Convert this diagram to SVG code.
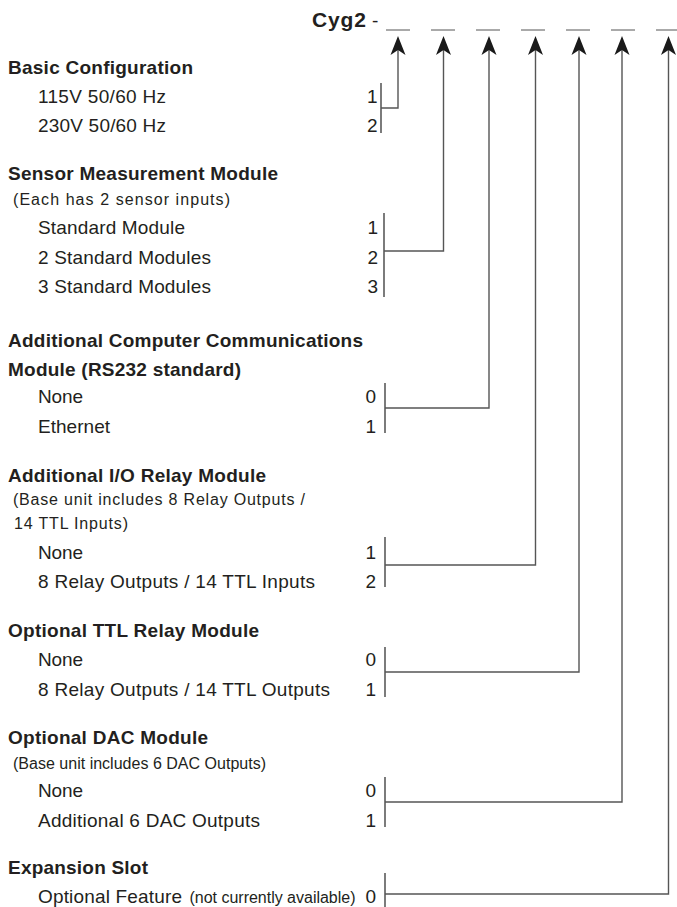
<svg xmlns="http://www.w3.org/2000/svg" xmlns:xlink="http://www.w3.org/1999/xlink" width="677" height="907" viewBox="0 0 677 907">
<style>
  text { font-family: "Liberation Sans", Arial, Helvetica, sans-serif; fill: #231f20; }
  .h { font-size: 19px; font-weight: bold; }
  .t { font-size: 21px; font-weight: bold; }
  .i { font-size: 19px; }
  .n { font-size: 16px; }
  .num { font-size: 19px; text-anchor: end; }
  .bar { stroke: #444; stroke-width: 1.4; fill: none; }
  .conn { stroke: #555; stroke-width: 1.4; fill: none; }
  .us { stroke: #555; stroke-width: 1; }
  .ah { fill: #1a1a1a; }
</style>
<defs>
  <path id="arrowhead" class="ah" d="M0,36 L7.5,55 L0,50 L-7.5,55 Z"/>
</defs>
<rect width="677" height="907" fill="#ffffff"/>

<g id="header">
  <text class="t" x="312" y="27" textLength="54" lengthAdjust="spacing">Cyg2</text>
  <text class="i" x="372" y="27">-</text>
  <line class="us" x1="386" y1="30" x2="410" y2="30"/>
  <line class="us" x1="431" y1="30" x2="455" y2="30"/>
  <line class="us" x1="476" y1="30" x2="500" y2="30"/>
  <line class="us" x1="521" y1="30" x2="545" y2="30"/>
  <line class="us" x1="566" y1="30" x2="590" y2="30"/>
  <line class="us" x1="611" y1="30" x2="635" y2="30"/>
  <line class="us" x1="656" y1="30" x2="677" y2="30"/>
</g>

<g id="basic-configuration">
  <text class="h" x="8" y="74" textLength="185" lengthAdjust="spacing">Basic Configuration</text>
  <text class="i" x="38" y="103" textLength="128" lengthAdjust="spacing">115V 50/60 Hz</text>
  <text class="i" x="38" y="132" textLength="128" lengthAdjust="spacing">230V 50/60 Hz</text>
  <text class="num" x="377.5" y="103">1</text>
  <text class="num" x="377.5" y="132">2</text>
  <line class="bar" x1="381" y1="83" x2="381" y2="133"/>
</g>

<g id="sensor-measurement-module">
  <text class="h" x="8" y="180" textLength="270" lengthAdjust="spacing">Sensor Measurement Module</text>
  <text class="n" x="13" y="205" textLength="217" lengthAdjust="spacing">(Each has 2 sensor inputs)</text>
  <text class="i" x="38" y="234" textLength="147" lengthAdjust="spacing">Standard Module</text>
  <text class="i" x="38" y="264" textLength="173" lengthAdjust="spacing">2 Standard Modules</text>
  <text class="i" x="38" y="293" textLength="173" lengthAdjust="spacing">3 Standard Modules</text>
  <text class="num" x="378" y="234">1</text>
  <text class="num" x="378" y="264">2</text>
  <text class="num" x="378" y="293">3</text>
  <line class="bar" x1="384" y1="213" x2="384" y2="297"/>
</g>

<g id="communications-module">
  <text class="h" x="8" y="347" textLength="355" lengthAdjust="spacing">Additional Computer Communications</text>
  <text class="h" x="8" y="376" textLength="233" lengthAdjust="spacing">Module (RS232 standard)</text>
  <text class="i" x="38" y="403" textLength="45" lengthAdjust="spacing">None</text>
  <text class="i" x="38" y="433" textLength="72" lengthAdjust="spacing">Ethernet</text>
  <text class="num" x="376" y="403">0</text>
  <text class="num" x="376" y="433">1</text>
  <line class="bar" x1="385" y1="383" x2="385" y2="433"/>
</g>

<g id="io-relay-module">
  <text class="h" x="8" y="482" textLength="258" lengthAdjust="spacing">Additional I/O Relay Module</text>
  <text class="n" x="13" y="505" textLength="292" lengthAdjust="spacing">(Base unit includes 8 Relay Outputs /</text>
  <text class="n" x="14" y="529" textLength="114" lengthAdjust="spacing">14 TTL Inputs)</text>
  <text class="i" x="38" y="559" textLength="45" lengthAdjust="spacing">None</text>
  <text class="i" x="38" y="588" textLength="277" lengthAdjust="spacing">8 Relay Outputs / 14 TTL Inputs</text>
  <text class="num" x="376" y="559">1</text>
  <text class="num" x="376" y="588">2</text>
  <line class="bar" x1="385" y1="537" x2="385" y2="587"/>
</g>

<g id="ttl-relay-module">
  <text class="h" x="8" y="637" textLength="251" lengthAdjust="spacing">Optional TTL Relay Module</text>
  <text class="i" x="38" y="666" textLength="45" lengthAdjust="spacing">None</text>
  <text class="i" x="38" y="696" textLength="292" lengthAdjust="spacing">8 Relay Outputs / 14 TTL Outputs</text>
  <text class="num" x="376" y="666">0</text>
  <text class="num" x="376" y="696">1</text>
  <line class="bar" x1="385" y1="647" x2="385" y2="697"/>
</g>

<g id="dac-module">
  <text class="h" x="8" y="744" textLength="200" lengthAdjust="spacing">Optional DAC Module</text>
  <text class="n" x="13" y="769" textLength="253" lengthAdjust="spacing">(Base unit includes 6 DAC Outputs)</text>
  <text class="i" x="38" y="797" textLength="45" lengthAdjust="spacing">None</text>
  <text class="i" x="38" y="827" textLength="222" lengthAdjust="spacing">Additional 6 DAC Outputs</text>
  <text class="num" x="376" y="797">0</text>
  <text class="num" x="376" y="827">1</text>
  <line class="bar" x1="385" y1="777" x2="385" y2="827"/>
</g>

<g id="expansion-slot">
  <text class="h" x="8" y="874" textLength="140" lengthAdjust="spacing">Expansion Slot</text>
  <text class="i" x="38" y="903" textLength="144" lengthAdjust="spacing">Optional Feature</text>
  <text class="n" x="189.5" y="903" textLength="166" lengthAdjust="spacing">(not currently available)</text>
  <text class="num" x="376" y="903">0</text>
  <line class="bar" x1="385" y1="873" x2="385" y2="907"/>
</g>

<g id="connectors">
  <path class="conn" d="M381,108 H398 V50"/>
  <path class="conn" d="M384,251 H443.5 V50"/>
  <path class="conn" d="M385,408 H489 V50"/>
  <path class="conn" d="M385,565 H535.5 V50"/>
  <path class="conn" d="M385,672 H579 V50"/>
  <path class="conn" d="M385,802 H622 V50"/>
  <path class="conn" d="M385,894 H668.5 V50"/>
  <use xlink:href="#arrowhead" x="398" y="0"/>
  <use xlink:href="#arrowhead" x="443.5" y="0"/>
  <use xlink:href="#arrowhead" x="489" y="0"/>
  <use xlink:href="#arrowhead" x="535.5" y="0"/>
  <use xlink:href="#arrowhead" x="579" y="0"/>
  <use xlink:href="#arrowhead" x="622" y="0"/>
  <use xlink:href="#arrowhead" x="668.5" y="0"/>
</g>
</svg>
